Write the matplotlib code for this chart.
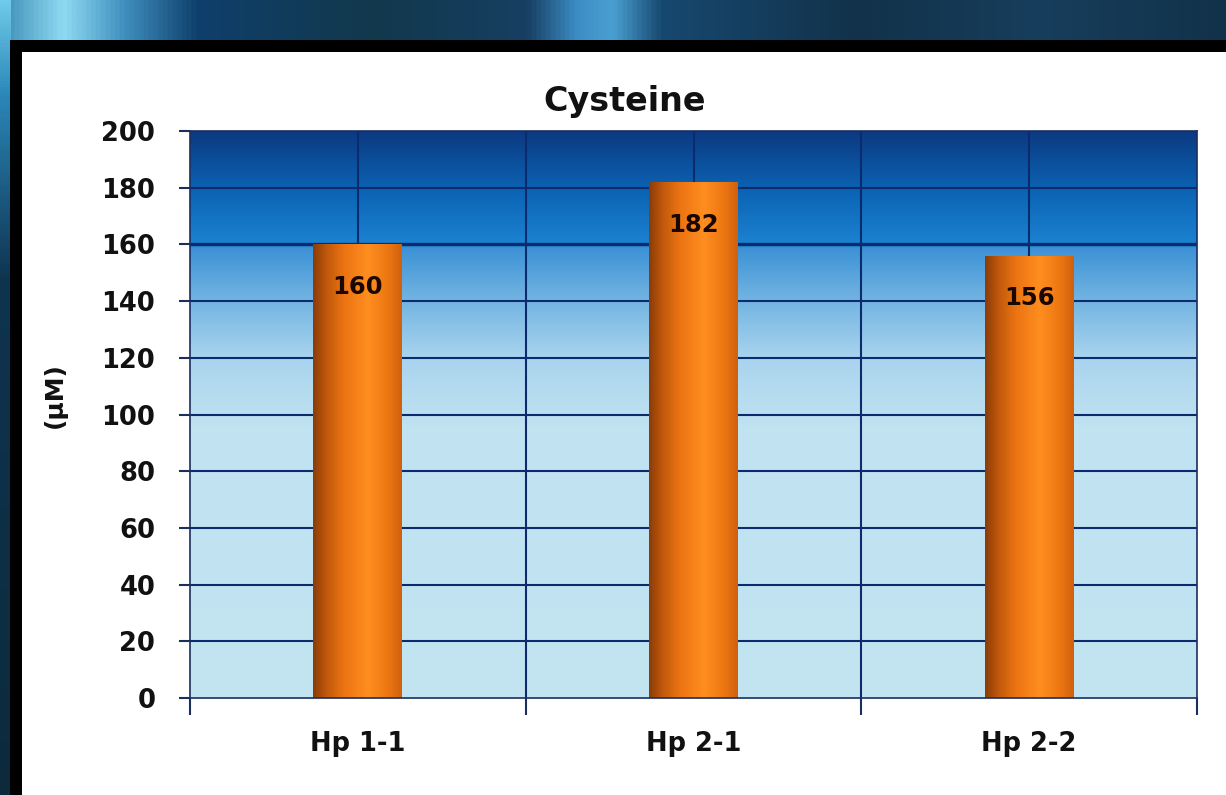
import numpy as np
import matplotlib
matplotlib.use('Agg')
import matplotlib.pyplot as plt
from matplotlib.colors import LinearSegmentedColormap
from matplotlib.patches import Rectangle

plt.rcParams['font.family'] = ['DejaVu Sans']
plt.rcParams['font.weight'] = 'bold'

# data
categorias = ['Hp 1-1', 'Hp 2-1', 'Hp 2-2']
valores = [160, 182, 156]
titulo = 'Cysteine'
unidad = '(\u00b5M)'
yticks = list(range(0, 201, 20))

W, H = 1226, 795
fig = plt.figure(figsize=(W / 100, H / 100), dpi=100)

#%% fondo de la diapositiva
bg = fig.add_axes([0, 0, 1, 1], zorder=-10)
bg.set_xlim(0, W)
bg.set_ylim(H, 0)
bg.axis('off')

franja = LinearSegmentedColormap.from_list('franja', [
    (0.00, '#3d8db6'), (0.05, '#8fdaf2'), (0.10, '#3f8fbf'), (0.16, '#0f3f6c'),
    (0.30, '#12384c'), (0.43, '#163f62'), (0.47, '#3c8cc4'), (0.50, '#4aa0d2'),
    (0.54, '#174870'), (0.70, '#12324a'), (0.85, '#173e5c'), (1.00, '#12324a')])
grad_h = np.linspace(0, 1, 512).reshape(1, -1)
bg.imshow(grad_h, cmap=franja, extent=(0, W, 42, 0), aspect='auto')

lateral = LinearSegmentedColormap.from_list('lateral', [
    (0.0, '#6fcbe8'), (0.12, '#2a86b8'), (0.35, '#0f3450'), (1.0, '#0c2a3c')])
grad_v = np.linspace(0, 1, 256).reshape(-1, 1)
bg.imshow(grad_v, cmap=lateral, extent=(0, 11, H, 0), aspect='auto')

bg.add_patch(Rectangle((10, 40), W, H, facecolor='black', edgecolor='none'))
bg.add_patch(Rectangle((22, 52), W, H, facecolor='white', edgecolor='none'))

#%% grafico
ax = fig.add_axes([190 / W, 1 - 698 / H, 1007 / W, 567 / H])
x = np.arange(len(categorias))
ax.set_xlim(-0.5, len(categorias) - 0.5)
ax.set_ylim(0, 200)

fondo = LinearSegmentedColormap.from_list('fondo', [
    (0.00, '#c3e5f2'), (0.48, '#c0e2f1'), (0.60, '#a9d4ee'), (0.70, '#74b5e2'),
    (0.795, '#3c92d6'), (0.80, '#1c83d2'), (0.90, '#0b62b2'), (1.00, '#0c3a82')])
ax.imshow(np.linspace(0, 1, 256).reshape(-1, 1), cmap=fondo, origin='lower',
          extent=(-0.5, len(categorias) - 0.5, 0, 200), aspect='auto', zorder=0)

col_grid = '#0b2b6e'
for yv in yticks[1:-1]:
    ax.axhline(yv, color=col_grid, lw=2.4 if yv == 160 else 1.5, zorder=1)
for xv in np.arange(0, len(categorias) - 0.5, 0.5):
    ax.axvline(xv, color=col_grid, lw=1.5, zorder=1)

barra = LinearSegmentedColormap.from_list('barra', [
    (0.0, '#8a3c08'), (0.15, '#c0580c'), (0.35, '#ec7412'), (0.62, '#ff8e20'),
    (0.85, '#ec7612'), (1.0, '#cf600e')])
barras = ax.bar(x, valores, width=0.265, color='none', edgecolor='none', zorder=2)
for b, v in zip(barras, valores):
    im = ax.imshow(np.linspace(0, 1, 256).reshape(1, -1), cmap=barra,
                   extent=(b.get_x(), b.get_x() + b.get_width(), 0, v),
                   aspect='auto', zorder=2)
    im.set_clip_path(b)
    ax.text(b.get_x() + b.get_width() / 2, v - 15, str(v), ha='center', va='center',
            fontsize=17.5, fontweight='bold', color='#1a0800', zorder=3)
ax.set_xlim(-0.5, len(categorias) - 0.5)
ax.set_ylim(0, 200)

for s in ax.spines.values():
    s.set_color('#1a2f5e')
    s.set_linewidth(1.2)

ax.set_yticks(yticks)
ax.set_yticklabels([str(t) for t in yticks])
ax.tick_params(axis='y', direction='out', length=8, width=1.5, color='#1a2f5e',
               pad=17, labelsize=18.5, labelcolor='#111111')
ax.set_xticks(np.arange(-0.5, len(categorias), 1.0))
ax.set_xticklabels([])
ax.tick_params(axis='x', which='major', direction='out', length=12, width=1.5,
               color='#1a2f5e')
ax.set_xticks(x, minor=True)
ax.set_xticklabels(categorias, minor=True)
ax.tick_params(axis='x', which='minor', length=0, pad=24, labelsize=18.5,
               labelcolor='#111111')
for lab in ax.get_xticklabels(minor=True) + ax.get_yticklabels():
    lab.set_fontweight('bold')

ax.set_ylabel(unidad, fontsize=18, fontweight='bold', color='#111111')
ax.yaxis.set_label_coords(-0.122, 0.534)

fig.text(625 / W, 1 - 102 / H, titulo, ha='center', va='center', fontsize=24,
         fontweight='bold', color='#111111')

fig.savefig('out.png', dpi=100)
